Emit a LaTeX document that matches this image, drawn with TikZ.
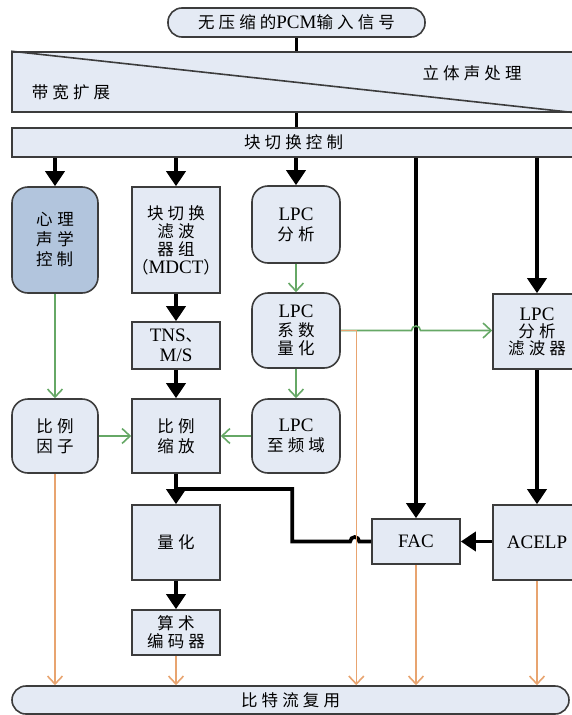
\documentclass[tikz,border=0pt]{standalone}
\usepackage{fontspec}
\setmainfont{Liberation Serif}
\newfontfamily\zh[LetterSpace=25]{Noto Sans CJK SC}
\usepackage[dvipsnames]{xcolor}
\definecolor{m_box}{HTML}{E4EAF4}
\definecolor{m_psy}{HTML}{B2C5DD}
\definecolor{m_edge}{HTML}{3C3C3C}
\definecolor{m_green}{HTML}{66A866}
\definecolor{m_orange}{HTML}{E8A470}
\usepackage{tikz}
\usetikzlibrary{positioning,arrows.meta,calc}
\newcommand{\lat}[1]{{\rmfamily\fontsize{19}{20}\selectfont #1}}

\begin{document}
\begin{tikzpicture}[
        x=1pt,y=-1pt,
        every node/.style={font=\zh\fontsize{16.5}{20}\selectfont},
        block/.style={draw=m_edge,fill=m_box,line width=1.6pt,align=center,inner sep=0pt,minimum width=88pt},
        rblock/.style={block,rounded corners=16pt},
        pill/.style={block,rounded corners=14pt},
        thickline/.style={line width=3.6pt},
        flow/.style={line width=3.6pt,-{Triangle[length=15pt,width=19pt]}},
        param/.style={draw=m_green,line width=1.6pt,-{Straight Barb[length=8pt,width=15pt]}},
        bits/.style={draw=m_orange,line width=1.6pt,-{Straight Barb[length=8pt,width=15pt]}}]
    \useasboundingbox (0,0) rectangle (571,715);
    % input and pre-processing
    \node[pill,minimum width=257pt,minimum height=29pt] (pcm) at (296.5,22.5) {无压缩的\lat{PCM}输入信号};
    \node[block,minimum width=563pt,minimum height=60pt] (band) at (293.5,82) {};
    \draw[m_edge,line width=1.6pt] (band.north west) -- (band.south east);
    \node (stereo) at (472,73) {立体声处理};
    \node (bwe) at (71,92) {带宽扩展};
    \node[block,minimum width=563pt,minimum height=29pt] (ctrl) at (293.5,142.5) {块切换控制};
    \draw[thickline] (pcm.south) -- (pcm.south |- band.north);
    \draw[thickline] (band.south -| pcm) -- (ctrl.north -| pcm);

    % coding blocks
    \node[rblock,fill=m_psy,minimum width=86pt,minimum height=106pt,align=left] (psy) at (55,240) {心\hspace{5pt}理\\声\hspace{5pt}学\\控制};
    \node[block,minimum height=106pt,font=\zh\fontsize{16.5}{18}\selectfont] (mdct) at (176,240) {块切换\\滤波\\器组\\（\lat{MDCT}）};
    \node[rblock,minimum height=77pt] (lpca) at (296,224.5) {\lat{LPC}\\分析};
    \node[block,minimum height=47pt] (tns) at (176,345.5) {\lat{TNS}、\\\lat{M/S}};
    \node[rblock,minimum height=75pt,font=\zh\fontsize{16.5}{18.5}\selectfont] (lpcq) at (296,330.5) {\lat{LPC}\\系数\\量化};
    \node[block,minimum height=75pt,font=\zh\fontsize{16.5}{17}\selectfont] (lpcf) at (537,331.5) {\lat{LPC}\\分析\\滤波器};
    \node[rblock,minimum width=86pt,minimum height=74pt] (sf) at (55,436) {比例\\因子};
    \node[block,minimum height=74pt] (scale) at (176,436) {比例\\缩放};
    \node[rblock,minimum height=74pt] (lpcl) at (296,436) {\lat{LPC}\\至频域};
    \node[block,minimum height=75pt] (quant) at (176,542.5) {量化};
    \node[block,minimum height=45pt] (fac) at (416,541.5) {\lat{FAC}};
    \node[block,minimum height=75pt] (acelp) at (537,542.5) {\lat{ACELP}};
    \node[block,minimum height=45pt,font=\zh\fontsize{16.5}{18}\selectfont] (arith) at (176,632.5) {算术\\编码器};
    \node[pill,minimum width=557pt,minimum height=28pt] (mux) at (290.5,700) {比特流复用};

    % main signal path
    \foreach \n in {psy,mdct,lpca,fac,lpcf}
        \draw[flow] (ctrl.south -| \n.north) -- (\n.north);
    \draw[flow] (mdct) -- (tns);
    \draw[flow] (tns) -- (scale);
    \draw[flow] (scale) -- (quant);
    \draw[flow] (quant) -- (arith);
    \draw[flow] (lpcf) -- (acelp);
    \draw[flow] (acelp.west |- fac) -- (fac.east);
    \coordinate (merge) at ($(scale.south)!0.5!(quant.north)$);
    \draw[thickline] (fac.west) -- ++(-12,0) arc[start angle=0,end angle=180,radius=4.5pt] -- ++(-58,0) |- (merge);

    % parameters
    \draw[param] (psy) -- (sf);
    \draw[param] (lpca) -- (lpcq);
    \draw[param] (lpcq) -- (lpcl);
    \draw[param] (sf) -- (scale);
    \draw[param] (lpcl) -- (scale);
    \draw[param] (lpcq.east) -- ($(lpcq.east -| fac.north)+(-4.5,0)$) arc[start angle=180,end angle=0,radius=4.5pt] -- (lpcf.west |- lpcq.east);

    % to bitstream
    \coordinate (tap) at ($(lpcq.east)+(15.5,0)$);
    \draw[bits] (sf) -- (sf |- mux.north);
    \draw[bits] (arith) -- (arith |- mux.north);
    \draw[bits] (lpcq.east) -- (tap) -- (tap |- mux.north);
    \draw[bits] (fac) -- (fac |- mux.north);
    \draw[bits] (acelp) -- (acelp |- mux.north);
\end{tikzpicture}
\end{document}
